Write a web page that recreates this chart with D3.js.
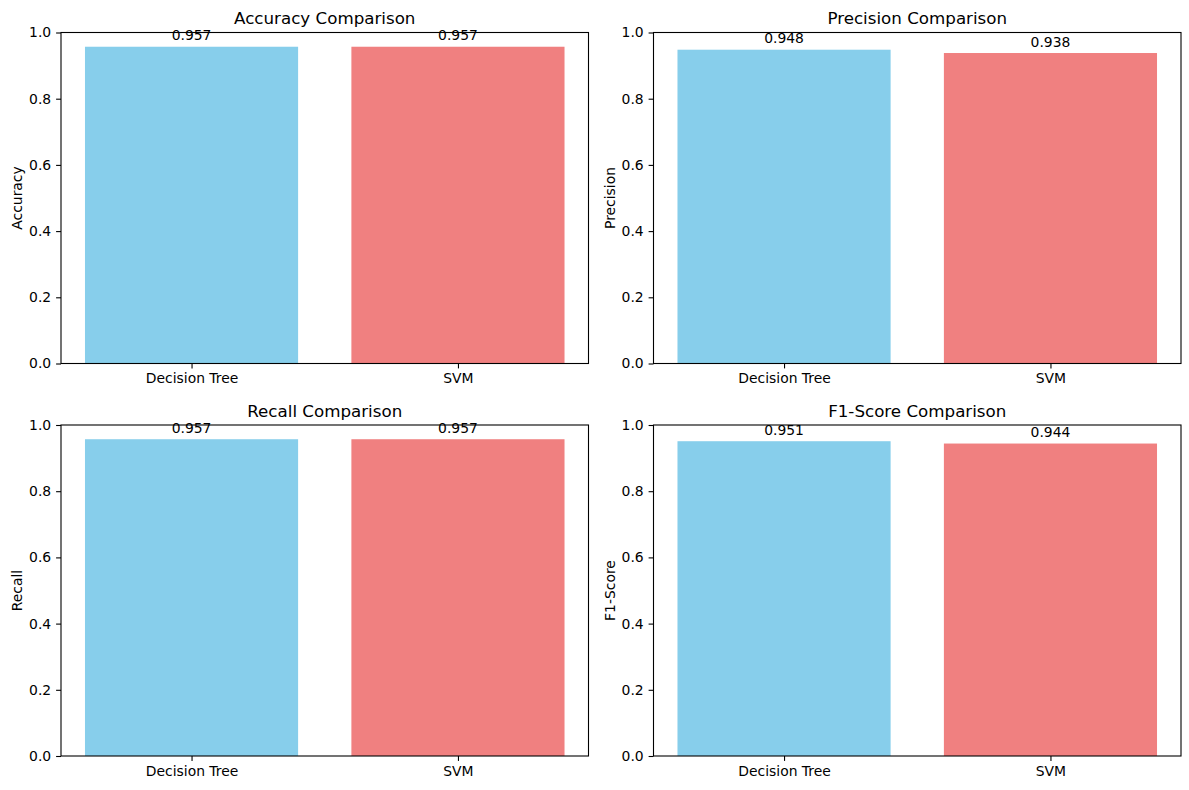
<!DOCTYPE html>
<html>
<head>
<meta charset="utf-8">
<title>Model comparison</title>
<style>
  body { margin: 0; background: #fff; }
  svg text { font-family: "DejaVu Sans", sans-serif; fill: #000; }
</style>
</head>
<body>
<svg id="chart" width="1189" height="790"></svg>
<script src="https://d3js.org/d3.v7.min.js"></script>
<script>
// data
const models = ["Decision Tree", "SVM"];
const metrics = ["Accuracy", "Precision", "Recall", "F1-Score"];
const accuracy = [0.957, 0.957];
const precision = [0.948, 0.938];
const recall = [0.957, 0.957];
const f1score = [0.951, 0.944];
const barColors = ["#87CEEB", "#F08080"];
const yTicks = [0, 0.2, 0.4, 0.6, 0.8, 1.0];

const values = [accuracy, precision, recall, f1score];

// panel frames (2 x 2)
const colLeft = [61, 653.5];
const rowTop = [32.5, 425];
const pw = 527.5, ph = 331;

const svg = d3.select("#chart");

metrics.forEach(function(name, k) {
  const x0 = colLeft[k % 2], y0 = rowTop[Math.floor(k / 2)];
  const g = svg.append("g").attr("transform", "translate(" + x0 + "," + y0 + ")");

  const x = d3.scaleBand().domain(models).range([0, pw]).paddingInner(0.2 / 0.8 * 0.8 / 1.0).paddingOuter(0);
  // matplotlib: bars of width 0.8, xlim -0.49..1.49
  const xl = d3.scaleLinear().domain([-0.49, 1.49]).range([0, pw]);
  const y = d3.scaleLinear().domain([0, 1]).range([ph, 0]);

  const data = models.map(function(m, i) { return { model: m, value: values[k][i], i: i }; });

  g.selectAll(".bar").data(data).enter().append("rect")
    .attr("class", "bar")
    .attr("x", function(d) { return xl(d.i - 0.4); })
    .attr("width", function(d) { return xl(d.i + 0.4) - xl(d.i - 0.4); })
    .attr("y", function(d) { return y(d.value); })
    .attr("height", function(d) { return ph - y(d.value); })
    .attr("fill", function(d) { return barColors[d.i]; });

  // value labels
  g.selectAll(".val").data(data).enter().append("text")
    .attr("class", "val")
    .attr("x", function(d) { return xl(d.i); })
    .attr("y", function(d) { return y(d.value + 0.01) - 3; })
    .attr("text-anchor", "middle")
    .style("font-size", "13.9px")
    .text(function(d) { return d.value.toFixed(3); });

  // y axis
  const ya = g.append("g").call(d3.axisLeft(y).tickValues(yTicks).tickFormat(d3.format(".1f"))
    .tickSize(4.9).tickPadding(4.9));
  ya.select(".domain").remove();
  ya.selectAll("line").attr("stroke", "#000").attr("stroke-width", 1.1);
  ya.selectAll("text").style("font-size", "13.9px").attr("font-family", null);

  // x axis
  const xa = g.append("g").attr("transform", "translate(0," + ph + ")")
    .call(d3.axisBottom(xl).tickValues([0, 1]).tickFormat(function(d) { return models[d]; })
      .tickSize(4.9).tickPadding(4.9));
  xa.select(".domain").remove();
  xa.selectAll("line").attr("stroke", "#000").attr("stroke-width", 1.1);
  xa.selectAll("text").style("font-size", "13.9px").attr("font-family", null);

  // frame
  g.append("rect").attr("width", pw).attr("height", ph)
    .attr("fill", "none").attr("stroke", "#000").attr("stroke-width", 1.1);

  // title
  g.append("text").attr("x", pw / 2).attr("y", -8.3)
    .attr("text-anchor", "middle").style("font-size", "16.7px")
    .text(name + " Comparison");

  // y label
  g.append("text")
    .attr("transform", "translate(" + (-39) + "," + (ph / 2) + ") rotate(-90)")
    .attr("text-anchor", "middle").style("font-size", "13.9px")
    .text(name);
});
</script>
</body>
</html>
